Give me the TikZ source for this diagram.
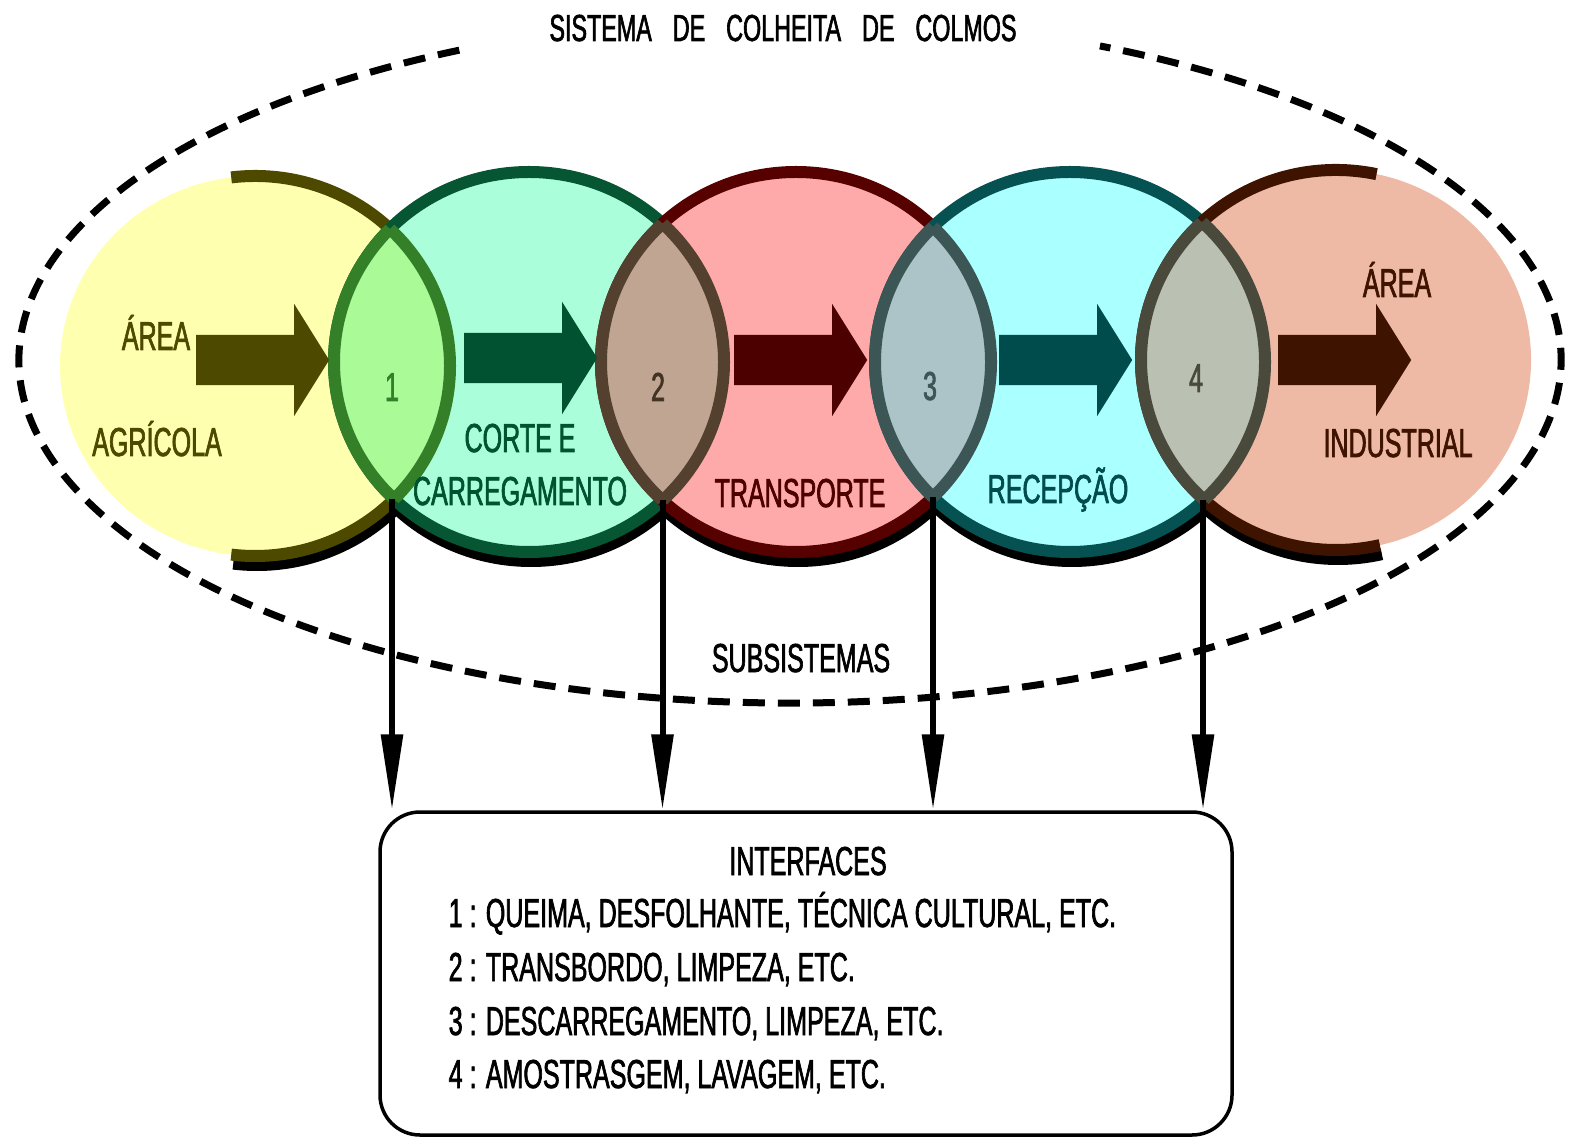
\documentclass[tikz,border=0pt]{standalone}
\usepackage{fontspec}
\setmainfont{Liberation Sans}[FakeStretch=0.62, FakeBold=1.6]
\usepackage{tikz}
\usepackage{xcolor}
\usetikzlibrary{arrows.meta, positioning, shapes.arrows}
\definecolor{agrifill}{RGB}{255, 255, 176}
\definecolor{agridark}{RGB}{77, 74, 0}
\definecolor{cortefill}{RGB}{170, 255, 218}
\definecolor{cortedark}{RGB}{6, 86, 52}
\definecolor{corteflow}{RGB}{0, 82, 48}
\definecolor{transfill}{RGB}{255, 170, 170}
\definecolor{transdark}{RGB}{86, 0, 0}
\definecolor{transflow}{RGB}{77, 0, 0}
\definecolor{recepfill}{RGB}{170, 255, 255}
\definecolor{recepdark}{RGB}{6, 82, 82}
\definecolor{recepflow}{RGB}{0, 75, 75}
\definecolor{indfill}{RGB}{238, 185, 165}
\definecolor{inddark}{RGB}{62, 20, 0}
\definecolor{lensA}{RGB}{170, 250, 152}
\definecolor{lensAdark}{RGB}{52, 128, 40}
\definecolor{lensB}{RGB}{192, 166, 146}
\definecolor{lensBdark}{RGB}{84, 64, 46}
\definecolor{lensC}{RGB}{172, 196, 200}
\definecolor{lensCdark}{RGB}{60, 86, 86}
\definecolor{lensD}{RGB}{186, 192, 178}
\definecolor{lensDdark}{RGB}{74, 74, 60}

\begin{document}
\begin{tikzpicture}[
    txt/.style={font=\fontsize{11.5}{14}\selectfont, inner sep=0pt, anchor=base},
    head/.style={txt, font=\fontsize{10.7}{13}\selectfont},
    ring/.style={x radius=1.95, y radius=1.90},
    rim/.style={line width=0.12cm},
    shadow/.style={line width=0.12cm, black},
    flow/.style={single arrow, single arrow head extend=0.31cm, single arrow tip angle=116, minimum height=1.33cm, inner sep=0.245cm, anchor=tip},
    conn/.style={-{Triangle[length=0.76cm, width=0.21cm]}, line width=0.06cm},
    outline/.style={dash pattern=on 0.22cm off 0.13cm, line width=0.07cm}
]
\useasboundingbox (0,0) rectangle (15.86,-11.47);

% centres of the subsystems
\coordinate (sys) at (7.90,-3.60);
\coordinate (agri) at (2.55,-3.66);
\coordinate (corte) at (5.29,-3.62);
\coordinate (trans) at (7.96,-3.62);
\coordinate (recep) at (10.70,-3.62);
\coordinate (ind) at (13.36,-3.60);

% dashed system boundary
\draw[outline] ([shift={(115.4:7.71 and 3.43)}]sys) arc[start angle=115.4, end angle=426.3, x radius=7.71, y radius=3.43];

% shadows
\draw[shadow] ([shift={(0.02,-0.09)}]agri) ++(97:1.95 and 1.90) arc[start angle=97, end angle=-97, ring];
\draw[shadow] ([shift={(0.02,-0.09)}]corte) ellipse[ring];
\draw[shadow] ([shift={(0.02,-0.09)}]trans) ellipse[ring];
\draw[shadow] ([shift={(0.02,-0.09)}]recep) ellipse[ring];
\draw[shadow] ([shift={(0.02,-0.09)}]ind) ++(78:1.95 and 1.90) arc[start angle=78, end angle=283, ring];

% subsystems
\fill[agrifill] (agri) ellipse[ring];
\draw[rim, agridark] (agri) ++(97:1.95 and 1.90) arc[start angle=97, end angle=-97, ring];
\draw[rim, cortedark, fill=cortefill] (corte) ellipse[ring];
\draw[rim, transdark, fill=transfill] (trans) ellipse[ring];
\draw[rim, recepdark, fill=recepfill] (recep) ellipse[ring];
\fill[indfill] (ind) ellipse[ring];
\draw[rim, inddark] (ind) ++(78:1.95 and 1.90) arc[start angle=78, end angle=283, ring];

% interfaces (overlaps)
\begin{scope} \clip (agri) ellipse[ring]; \fill[lensA] (corte) ellipse[ring]; \draw[rim, lensAdark] (corte) ellipse[ring]; \end{scope}
\begin{scope} \clip (corte) ellipse[ring]; \draw[rim, lensAdark] (agri) ellipse[ring]; \end{scope}
\begin{scope} \clip (corte) ellipse[ring]; \fill[lensB] (trans) ellipse[ring]; \draw[rim, lensBdark] (trans) ellipse[ring]; \end{scope}
\begin{scope} \clip (trans) ellipse[ring]; \draw[rim, lensBdark] (corte) ellipse[ring]; \end{scope}
\begin{scope} \clip (trans) ellipse[ring]; \fill[lensC] (recep) ellipse[ring]; \draw[rim, lensCdark] (recep) ellipse[ring]; \end{scope}
\begin{scope} \clip (recep) ellipse[ring]; \draw[rim, lensCdark] (trans) ellipse[ring]; \end{scope}
\begin{scope} \clip (recep) ellipse[ring]; \fill[lensD] (ind) ellipse[ring]; \draw[rim, lensDdark] (ind) ellipse[ring]; \end{scope}
\begin{scope} \clip (ind) ellipse[ring]; \draw[rim, lensDdark] (recep) ellipse[ring]; \end{scope}

% flow arrows
\node[flow, fill=agridark] (flowA) at (3.30,-3.60) {};
\node[flow, fill=corteflow] (flowB) at (5.98,-3.58) {};
\node[flow, fill=transflow] (flowC) at (8.68,-3.60) {};
\node[flow, fill=recepflow] (flowD) at (11.33,-3.60) {};
\node[flow, fill=inddark] (flowE) at (14.12,-3.60) {};

% labels
\node[head] (title) at (7.83,-0.41) {SISTEMA\hspace{0.21cm}DE\hspace{0.21cm}COLHEITA\hspace{0.21cm}DE\hspace{0.21cm}COLMOS};
\node[txt, text=agridark] (agriA) at (1.56,-3.50) {ÁREA};
\node[txt, text=agridark] (agriB) at (1.57,-4.56) {AGRÍCOLA};
\node[txt, text=corteflow] (corteA) at (5.20,-4.52) {CORTE E};
\node[txt, text=corteflow] (corteB) at (5.20,-5.05) {CARREGAMENTO};
\node[txt, text=transflow] (transA) at (8.00,-5.07) {TRANSPORTE};
\node[txt, text=recepflow] (recepA) at (10.58,-5.03) {RECEPÇÃO};
\node[txt, text=inddark] (indA) at (13.97,-2.97) {ÁREA};
\node[txt, text=inddark] (indB) at (13.98,-4.57) {INDUSTRIAL};
\node[txt, text=lensAdark] (numA) at (3.92,-4.01) {1};
\node[txt, text=lensBdark!80!black] (numB) at (6.58,-4.01) {2};
\node[txt, text=lensCdark] (numC) at (9.30,-4.00) {3};
\node[txt, text=lensDdark] (numD) at (11.96,-3.92) {4};
\node[txt] (subs) at (8.01,-6.72) {SUBSISTEMAS};

% interface box
\node[draw, rounded corners=0.4cm, line width=0.035cm, minimum width=8.52cm, minimum height=3.23cm, inner sep=0pt] (iface) at (8.06,-9.735) {};
\node[txt] (ifhead) at (8.08,-8.75) {INTERFACES};
\node[txt, anchor=base west] (ifA) at (4.48,-9.27) {1 : QUEIMA, DESFOLHANTE, TÉCNICA CULTURAL, ETC.};
\node[txt, anchor=base west] (ifB) at (4.48,-9.81) {2 : TRANSBORDO, LIMPEZA, ETC.};
\node[txt, anchor=base west] (ifC) at (4.48,-10.35) {3 : DESCARREGAMENTO, LIMPEZA, ETC.};
\node[txt, anchor=base west] (ifD) at (4.48,-10.88) {4 : AMOSTRASGEM, LAVAGEM, ETC.};

% connectors from the interfaces
\coordinate (cutA) at (3.92,-4.99);
\coordinate (cutB) at (6.625,-5.00);
\coordinate (cutC) at (9.33,-4.97);
\coordinate (cutD) at (12.03,-5.00);
\draw[conn] (cutA) -- (cutA |- iface.north);
\draw[conn] (cutB) -- (cutB |- iface.north);
\draw[conn] (cutC) -- (cutC |- iface.north);
\draw[conn] (cutD) -- (cutD |- iface.north);

\end{tikzpicture}
\end{document}
